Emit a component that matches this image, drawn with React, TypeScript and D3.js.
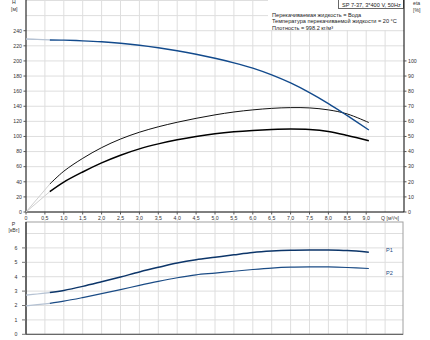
import React from "react";
import * as d3 from "d3";

const qTicks = [0, 0.5, 1, 1.5, 2, 2.5, 3, 3.5, 4, 4.5, 5, 5.5, 6, 6.5, 7, 7.5, 8, 8.5, 9];
const hTicks = [0, 20, 40, 60, 80, 100, 120, 140, 160, 180, 200, 220, 240];
const etaTicks = [0, 10, 20, 30, 40, 50, 60, 70, 80, 90, 100];
const pTicks = [0, 1, 2, 3, 4, 5, 6];

const q = [0.63, 1.0, 1.5, 2.0, 2.5, 3.0, 3.5, 4.0, 4.5, 5.0, 5.5, 6.0, 6.5, 7.0, 7.5, 8.0, 8.5, 9.07];
const head = [227.8, 227.5, 226.6, 225.3, 223.4, 220.8, 217.4, 213.4, 208.8, 203.5, 197.5, 190.5, 181.5, 170.8, 158, 143.5, 127.5, 108.6];
const etaPump = [18.5, 27.0, 35.5, 42.6, 48.3, 52.8, 56.4, 59.4, 62.0, 64.3, 66.2, 67.6, 68.6, 69.1, 68.9, 67.6, 64.9, 59.2];
const etaTotal = [13.5, 19.8, 26.5, 32.5, 37.6, 41.8, 45.1, 47.8, 50.0, 51.8, 53.1, 54.0, 54.6, 54.9, 54.6, 53.3, 50.7, 47.2];
const p1 = [2.9, 3.05, 3.33, 3.65, 3.98, 4.33, 4.65, 4.95, 5.18, 5.35, 5.52, 5.68, 5.78, 5.84, 5.86, 5.86, 5.82, 5.7];
const p2 = [2.15, 2.3, 2.55, 2.82, 3.1, 3.4, 3.68, 3.93, 4.13, 4.25, 4.38, 4.5, 4.6, 4.66, 4.68, 4.68, 4.64, 4.57];
const q0 = [0, 0.3, 0.63];
const head0 = [229, 228.5, 227.8];
const p1Start = [2.72, 2.8, 2.9];
const p2Start = [1.98, 2.06, 2.15];

const title = "SP 7-37, 3*400 V, 50Hz";
const notes = [
  "Перекачиваемая жидкость = Вода",
  "Температура перекачиваемой жидкости = 20 °C",
  "Плотность = 998.2 кг/м³",
];

const FONT = "Liberation Sans, Arial, sans-serif";

export default function App() {
  const x = d3.scaleLinear().domain([0, 10]).range([26, 404]);
  const yH = d3.scaleLinear().domain([0, 280]).range([212, 0.5]);
  const yE = d3.scaleLinear().domain([0, 140]).range([212, 0.5]);
  const yP = d3.scaleLinear().domain([0, 7.8]).range([334.3, 222]);

  const mk = (ys: number[], yS: d3.ScaleLinear<number, number>, qs: number[] = q) =>
    d3.line<number>().x((_, i) => x(qs[i])).y((d) => yS(d)).curve(d3.curveCatmullRom.alpha(0.5))(ys) || "";

  const gridV = d3.range(1, 20).map((i) => i * 0.5);
  const gridHTop = d3.range(1, 15).map((i) => i * 20);
  const gridHBot = [1, 2, 3, 4, 5, 6, 7];
  const fmt = (v: number) => (v === 0 ? "0" : v.toFixed(1).replace(".", ","));

  return (
    <svg width={430} height={340} style={{ position: "absolute", left: 0, top: 0, background: "#fff" }} fontFamily={FONT}>
      <rect x={0} y={0} width={430} height={340} fill="#fff" />
      {gridV.map((v) => (
        <line key={"tv" + v} x1={x(v)} x2={x(v)} y1={0} y2={212} stroke="#dedede" strokeWidth={1} />
      ))}
      {gridHTop.map((v) => (
        <line key={"th" + v} x1={26} x2={404} y1={yH(v)} y2={yH(v)} stroke="#dedede" strokeWidth={1} />
      ))}
      {gridV.map((v) => (
        <line key={"bv" + v} x1={x(v)} x2={x(v)} y1={222} y2={334} stroke="#dedede" strokeWidth={1} />
      ))}
      {gridHBot.map((v) => (
        <line key={"bh" + v} x1={26} x2={403} y1={yP(v)} y2={yP(v)} stroke="#dedede" strokeWidth={1} />
      ))}
      <rect x={26} y={222} width={377} height={112.3} fill="none" stroke="#a0a0a0" strokeWidth={1} />

      <rect x={268} y={0} width={136} height={30} fill="#fff" />
      <rect x={338.5} y={-1} width={65} height={9.5} fill="#fff" stroke="#444" strokeWidth={0.8} />
      <text x={342} y={6.5} fontSize={5.6} fill="#222">{title}</text>
      {notes.map((t, i) => (
        <text key={t} x={272} y={16.5 + i * 6.8} fontSize={5.6} fill="#222">{t}</text>
      ))}

      <line x1={26} x2={26} y1={0} y2={212} stroke="#000" strokeWidth={1} />
      <line x1={26} x2={404} y1={212} y2={212} stroke="#000" strokeWidth={1} />
      <line x1={404} x2={404} y1={0} y2={212} stroke="#000" strokeWidth={1} />
      {hTicks.map((v) => (
        <g key={"ht" + v}>
          <line x1={23.5} x2={26} y1={yH(v)} y2={yH(v)} stroke="#555" />
          <text x={22} y={yH(v) + 1.8} fontSize={5.2} textAnchor="end" fill="#333">{v}</text>
        </g>
      ))}
      {etaTicks.map((v) => (
        <g key={"et" + v}>
          <line x1={404} x2={406.5} y1={yE(v)} y2={yE(v)} stroke="#555" />
          <text x={408} y={yE(v) + 1.8} fontSize={5.2} fill="#333">{v}</text>
        </g>
      ))}
      {qTicks.map((v) => (
        <g key={"qt" + v}>
          <line x1={x(v)} x2={x(v)} y1={212} y2={214.5} stroke="#555" />
          <text x={x(v)} y={219.5} fontSize={5.2} textAnchor="middle" fill="#333">{fmt(v)}</text>
        </g>
      ))}
      <text x={390} y={219.5} fontSize={5.2} textAnchor="middle" fill="#333">Q [м³/ч]</text>
      <text x={12} y={4} fontSize={5.2} fill="#333">H</text>
      <text x={11} y={10.5} fontSize={5.2} fill="#333">[м]</text>
      <text x={413} y={5} fontSize={5.2} fill="#333">eta</text>
      <text x={413} y={11.5} fontSize={5.2} fill="#333">[%]</text>

      <line x1={26} x2={26} y1={222} y2={334.3} stroke="#000" strokeWidth={1} />
      <line x1={26} x2={403} y1={334.3} y2={334.3} stroke="#555" strokeWidth={1} />
      {pTicks.map((v) => (
        <g key={"pt" + v}>
          <line x1={22} x2={26} y1={yP(v)} y2={yP(v)} stroke="#777" />
          <text x={17.5} y={yP(v) + 1.8} fontSize={5.2} textAnchor="end" fill="#333">{v}</text>
        </g>
      ))}
      <text x={13.5} y={226} fontSize={5.2} textAnchor="middle" fill="#333">P</text>
      <text x={14} y={232} fontSize={5.2} textAnchor="middle" fill="#333">[кВт]</text>

      <path d={mk(head0, yH, q0)} fill="none" stroke="#b5c2d3" strokeWidth={1.3} />
      <line x1={x(0)} y1={yE(0)} x2={x(q[0])} y2={yE(etaPump[0])} stroke="#cfcfcf" strokeWidth={1} />
      <line x1={x(0)} y1={yE(0)} x2={x(q[0])} y2={yE(etaTotal[0])} stroke="#cfcfcf" strokeWidth={1} />
      <path d={mk(p1Start, yP, q0)} fill="none" stroke="#b5c2d3" strokeWidth={1.2} />
      <path d={mk(p2Start, yP, q0)} fill="none" stroke="#b5c2d3" strokeWidth={1.2} />

      <path d={mk(etaPump, yE)} fill="none" stroke="#111" strokeWidth={1} />
      <path d={mk(etaTotal, yE)} fill="none" stroke="#000" strokeWidth={1.5} />
      <path d={mk(head, yH)} fill="none" stroke="#124a8c" strokeWidth={1.4} />
      <path d={mk(p1, yP)} fill="none" stroke="#0c3569" strokeWidth={1.5} />
      <path d={mk(p2, yP)} fill="none" stroke="#1a4b85" strokeWidth={1.2} />
      <text x={386} y={251.5} fontSize={5.6} fill="#1a4b85">P1</text>
      <text x={386} y={274.5} fontSize={5.6} fill="#1a4b85">P2</text>
    </svg>
  );
}
